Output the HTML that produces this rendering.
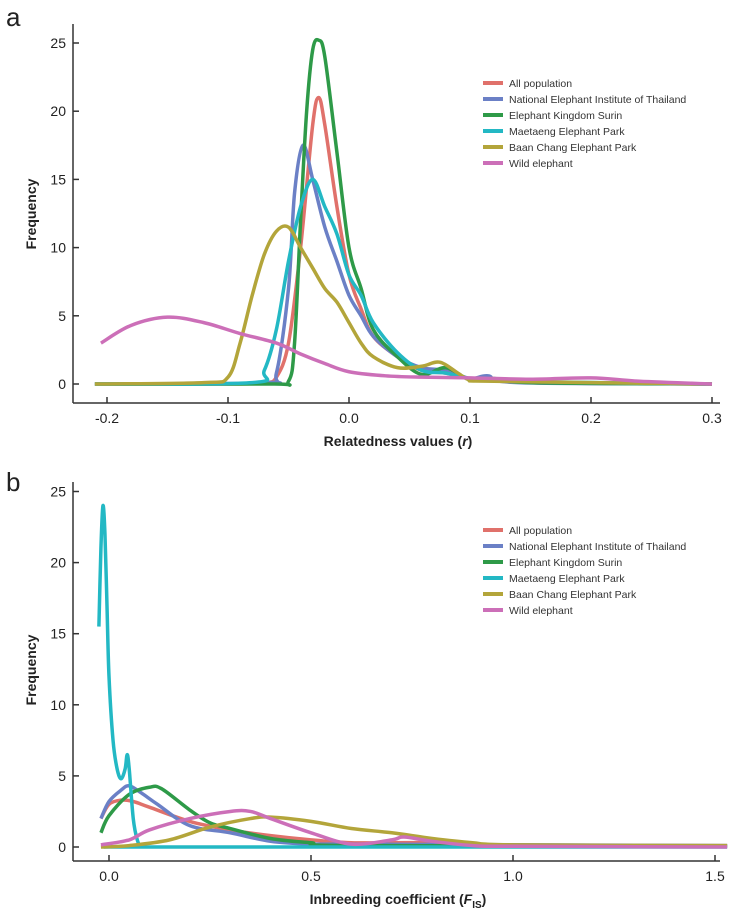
<!DOCTYPE html>
<html><head><meta charset="utf-8"><style>
body{margin:0;background:#fff;}
svg{display:block;font-family:"Liberation Sans",Arial,sans-serif;}
</style></head><body>
<svg id="chart" width="750" height="908"></svg>
<script>
// ---- Panel a data ----
const aXTicks=[-0.2,-0.1,0.0,0.1,0.2,0.3];
const aXTickLabels=["-0.2","-0.1","0.0","0.1","0.2","0.3"];
const aYTicks=[0,5,10,15,20,25];
const aAllX=[-0.21,-0.1,-0.07,-0.06,-0.05,-0.04,-0.03,-0.025,-0.02,-0.01,0,0.01,0.02,0.04,0.06,0.08,0.1,0.12,0.15,0.2,0.3];
const aAllY=[0,0,0.1,0.5,3,10,19,21,19,13,8,5.5,3.5,2,1,0.8,0.4,0.3,0.1,0.05,0];
const aNeiX=[-0.21,-0.07,-0.06,-0.05,-0.045,-0.038,-0.03,-0.02,-0.01,0,0.01,0.02,0.04,0.06,0.08,0.1,0.115,0.14,0.3];
const aNeiY=[0,0.1,0.8,7,14,17.5,15,11.5,9,6.5,5,3.5,2,1.2,1,0.4,0.6,0.1,0];
const aEksX=[-0.21,-0.065,-0.05,-0.045,-0.04,-0.035,-0.03,-0.025,-0.02,-0.01,0,0.01,0.02,0.04,0.06,0.08,0.1,0.12,0.15,0.3];
const aEksY=[0,0,0.2,3,12,20,24.5,25.2,24,17,10,7,4,2,0.7,1.2,0.3,0.4,0.1,0];
const aMepX=[-0.21,-0.08,-0.07,-0.06,-0.05,-0.04,-0.03,-0.02,-0.01,0,0.01,0.02,0.04,0.06,0.08,0.1,0.13,0.3];
const aMepY=[0,0.1,1,4,9,13,15,13,11,8,6.5,4.5,2.3,1,0.8,0.4,0.2,0];
const aBcpX=[-0.21,-0.12,-0.1,-0.09,-0.08,-0.07,-0.06,-0.05,-0.04,-0.03,-0.02,-0.01,0,0.01,0.02,0.04,0.06,0.075,0.09,0.1,0.12,0.3];
const aBcpY=[0,0.1,0.5,3,6.5,9.5,11.2,11.5,10,8.5,7,6,4.5,3,2,1.2,1.3,1.6,0.8,0.3,0.2,0];
const aWildX=[-0.205,-0.18,-0.15,-0.12,-0.09,-0.06,-0.04,-0.02,0,0.03,0.06,0.1,0.15,0.2,0.24,0.3];
const aWildY=[3,4.3,4.9,4.5,3.7,3,2.2,1.5,0.9,0.6,0.5,0.45,0.35,0.45,0.2,0];
// ---- Panel b data ----
const bXTicks=[0,0.5,1.0,1.5];
const bXTickLabels=["0.0","0.5","1.0","1.5"];
const bYTicks=[0,5,10,15,20,25];
const bAllX=[-0.02,0,0.03,0.06,0.1,0.2,0.3,0.4,0.5,0.6,0.7,0.8,0.9,1.0,1.53];
const bAllY=[2,3,3.3,3.2,2.8,1.8,1.2,0.8,0.5,0.3,0.3,0.3,0.15,0.1,0.1];
const bNeiX=[-0.02,0,0.03,0.05,0.08,0.12,0.2,0.3,0.4,0.5,0.6,1.53];
const bNeiY=[2,3.2,4,4.3,3.8,3,1.5,1,0.4,0.2,0.2,0.1];
const bEksX=[-0.02,0,0.05,0.1,0.13,0.2,0.25,0.3,0.4,0.5,0.6,1.53];
const bEksY=[1,2.2,3.7,4.2,4.1,2.6,1.7,1.3,0.6,0.3,0.1,0.05];
const bMepX=[-0.025,-0.02,-0.015,-0.01,-0.005,0,0.01,0.02,0.03,0.04,0.045,0.05,0.06,0.07,0.08,0.1,1.53];
const bMepY=[15.5,21,24,22,17,12,7.5,5.5,4.8,5.5,6.5,5.5,2,0.5,0.05,0,0];
const bBcpX=[-0.02,0.05,0.15,0.25,0.35,0.4,0.5,0.6,0.7,0.8,0.9,1.0,1.53];
const bBcpY=[0,0.1,0.5,1.4,2,2.1,1.8,1.3,1,0.6,0.3,0.15,0.1];
const bWildX=[-0.02,0.05,0.1,0.2,0.3,0.35,0.4,0.5,0.6,0.7,0.73,0.8,0.9,1.0,1.53];
const bWildY=[0.15,0.5,1.2,2,2.5,2.5,2,1,0.2,0.5,0.7,0.4,0.1,0.05,0];

const names=["All population","National Elephant Institute of Thailand","Elephant Kingdom Surin","Maetaeng Elephant Park","Baan Chang Elephant Park","Wild elephant"];
const colors=["#e0716b","#6b80c6","#2e9a48","#23b8c4","#b3a53a","#cc6fb8"];
const keys=["all","nei","eks","mep","bcp","wild"];

const NS="http://www.w3.org/2000/svg";
const svg=document.getElementById('chart');
function el(t,a,p){const e=document.createElementNS(NS,t);for(const k in a)e.setAttribute(k,a[k]);(p||svg).appendChild(e);return e;}
function smooth(pts){let d="M"+pts[0][0]+","+pts[0][1];for(let i=0;i<pts.length-1;i++){const p0=pts[Math.max(0,i-1)],p1=pts[i],p2=pts[i+1],p3=pts[Math.min(pts.length-1,i+2)];
const c1=[p1[0]+(p2[0]-p0[0])/6,p1[1]+(p2[1]-p0[1])/6],c2=[p2[0]-(p3[0]-p1[0])/6,p2[1]-(p3[1]-p1[1])/6];
d+=" C"+c1[0]+","+c1[1]+" "+c2[0]+","+c2[1]+" "+p2[0]+","+p2[1];}return d;}

function panel(cfg){
  const g=el('g',{});
  
  
  const sx=v=>cfg.x0px+(v-cfg.x0)*cfg.xs, sy=v=>cfg.y0px-v*cfg.ys;
  const lbl=el('text',{x:6,y:cfg.labelY,'font-size':26,fill:'#222'},g);lbl.textContent=cfg.id;
  
  const ya=el('line',{x1:73,x2:73,y1:cfg.yTop,y2:cfg.axisY,stroke:'#333','stroke-width':1.5},g);
  
  const xa=el('line',{x1:73,x2:720,y1:cfg.axisY,y2:cfg.axisY,stroke:'#333','stroke-width':1.5},g);
  
  cfg.yTicks.forEach(v=>{const y=sy(v);el('line',{x1:73,x2:79,y1:y,y2:y,stroke:'#333','stroke-width':1.5},g);
    const t=el('text',{x:66,y:y+5,'font-size':14,'text-anchor':'end',fill:'#222'},g);t.textContent=v;
    });
  cfg.xTicks.forEach((v,i)=>{const x=sx(v);el('line',{x1:x,x2:x,y1:cfg.axisY,y2:cfg.axisY-6,stroke:'#333','stroke-width':1.5},g);
    const t=el('text',{x:x,y:cfg.axisY+20,'font-size':14,'text-anchor':'middle',fill:'#222'},g);t.textContent=cfg.xLabels[i];
    });
  const yt=el('text',{x:0,y:0,'font-size':14,'font-weight':'bold','text-anchor':'middle',fill:'#222',transform:`translate(36,${cfg.yTitleY}) rotate(-90)`},g);
  yt.textContent='Frequency';
  const xt=el('text',{x:398,y:cfg.axisY+43,'font-size':14,'font-weight':'bold','text-anchor':'middle',fill:'#222'},g);
  xt.innerHTML=cfg.xTitle;
  cfg.series.forEach((s,i)=>{
    const pts=s[0].map((v,j)=>[sx(v),sy(s[1][j])]);
    const p=el('path',{d:smooth(pts),fill:'none',stroke:colors[i],'stroke-width':3.5,'stroke-linejoin':'round'},g);
    
  });
  names.forEach((n,i)=>{const y=cfg.legY+i*16;
    const lg=el('g',{},g);
    el('line',{x1:483,x2:503,y1:y,y2:y,stroke:colors[i],'stroke-width':4},lg);
    const t=el('text',{x:509,y:y+4,'font-size':10.5,fill:'#333'},lg);t.textContent=n;});
}
panel({id:'a',labelY:26,yTop:24,axisY:403,x0:0,x0px:349,xs:1210,y0px:384,ys:13.64,
  xTicks:aXTicks,xLabels:aXTickLabels,yTicks:aYTicks,yTitleY:214,legY:83,
  xTitle:'Relatedness values (<tspan font-style="italic">r</tspan>)',
  series:[[aAllX,aAllY],[aNeiX,aNeiY],[aEksX,aEksY],[aMepX,aMepY],[aBcpX,aBcpY],[aWildX,aWildY]]});
panel({id:'b',labelY:491,yTop:482,axisY:861,x0:0,x0px:109,xs:404,y0px:847,ys:14.22,
  xTicks:bXTicks,xLabels:bXTickLabels,yTicks:bYTicks,yTitleY:670,legY:530,
  xTitle:'Inbreeding coefficient (<tspan font-style="italic">F</tspan><tspan font-size="10" dy="4">IS</tspan><tspan dy="-4">)</tspan>',
  series:[[bAllX,bAllY],[bNeiX,bNeiY],[bEksX,bEksY],[bMepX,bMepY],[bBcpX,bBcpY],[bWildX,bWildY]]});
</script>
</body></html>
